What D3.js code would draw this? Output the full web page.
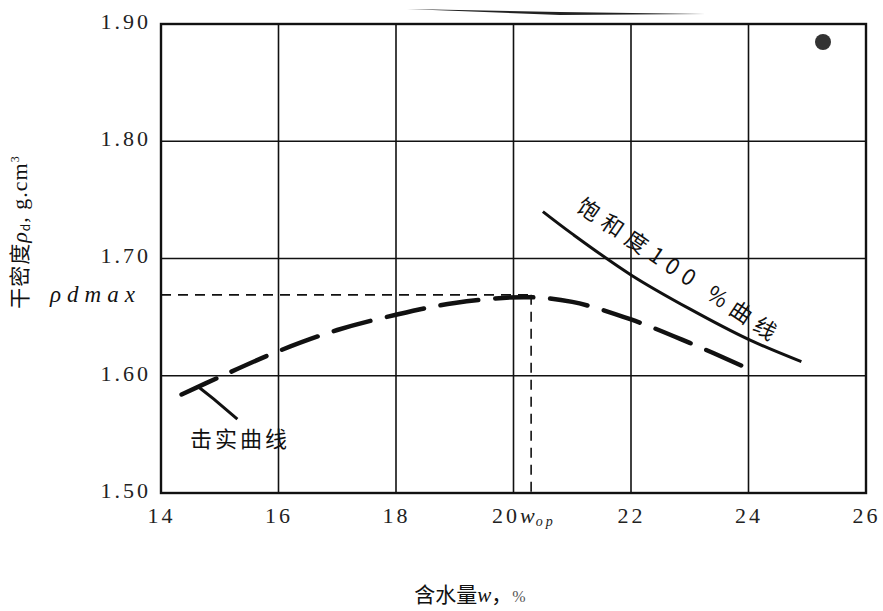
<!DOCTYPE html>
<html>
<head>
<meta charset="utf-8">
<script src="https://cdn.jsdelivr.net/npm/d3@7"></script>
<style>
  body { margin: 0; background: #fff; }
  svg { display: block; }
  .tick text { font-family: "Liberation Serif", "DejaVu Serif", serif; font-size: 22px; letter-spacing: 3px; fill: #222; }
  .cjk { font-family: "Noto Sans CJK SC", sans-serif; fill: #111; }
</style>
</head>
<body>
<svg width="883" height="611"></svg>
<script>
// x ticks (water content %) and y ticks (dry density g/cm3)
var xTicks = [14, 16, 18, 20, 22, 24, 26];
var yTicks = [1.50, 1.60, 1.70, 1.80, 1.90];

// compaction curve
var compactW   = [14.35, 15.0, 16.0, 17.0, 18.0, 19.0, 20.2, 21.0, 22.0, 23.0, 24.0];
var compactRho = [1.584, 1.599, 1.621, 1.639, 1.652, 1.662, 1.667, 1.663, 1.648, 1.628, 1.606];

// 100% saturation curve
var satW   = [20.5, 21.0, 22.0, 23.0, 24.0, 24.9];
var satRho = [1.740, 1.721, 1.686, 1.657, 1.631, 1.612];

var wop = 20.3;
var rhoMax = 1.669;

var svg = d3.select("svg");

var x = d3.scaleLinear().domain([14, 26]).range([161, 866]);
var y = d3.scaleLinear().domain([1.5, 1.9]).range([493, 24]);

// grid
var grid = svg.append("g").attr("stroke", "#111").attr("stroke-width", 1.6);
grid.selectAll("line.v")
    .data(xTicks)
  .enter().append("line")
    .attr("class", "v")
    .attr("x1", function(d) { return x(d); })
    .attr("x2", function(d) { return x(d); })
    .attr("y1", y(1.9))
    .attr("y2", y(1.5));
grid.selectAll("line.h")
    .data(yTicks)
  .enter().append("line")
    .attr("class", "h")
    .attr("x1", x(14))
    .attr("x2", x(26))
    .attr("y1", function(d) { return y(d); })
    .attr("y2", function(d) { return y(d); });

svg.append("rect")
    .attr("x", x(14)).attr("y", y(1.9))
    .attr("width", x(26) - x(14)).attr("height", y(1.5) - y(1.9))
    .attr("fill", "none").attr("stroke", "#111").attr("stroke-width", 2.4);

// axes (labels only)
var xAxis = svg.append("g")
    .attr("transform", "translate(0," + y(1.5) + ")")
    .call(d3.axisBottom(x).tickValues(xTicks).tickSize(0).tickPadding(14)
      .tickFormat(function(d) { return d == 20 ? "" : d; }));
xAxis.select(".domain").remove();

var wopLabel = xAxis.selectAll(".tick").filter(function(d) { return d == 20; }).select("text")
    .attr("text-anchor", "start")
    .attr("x", -22);
wopLabel.append("tspan").text("20");
wopLabel.append("tspan").attr("font-style", "italic").attr("letter-spacing", "1px").text("w");
wopLabel.append("tspan").attr("font-style", "italic").attr("font-size", "14px").attr("dy", 3).text("op");

var yAxis = svg.append("g")
    .attr("transform", "translate(" + x(14) + ",0)")
    .call(d3.axisLeft(y).tickValues(yTicks).tickSize(0).tickPadding(10).tickFormat(d3.format(".2f")));
yAxis.select(".domain").remove();
yAxis.selectAll(".tick text").attr("dy", "0.2em");

// rho_d max reference lines
var guide = svg.append("g").attr("stroke", "#111").attr("stroke-width", 1.6)
    .attr("stroke-dasharray", "10,7").attr("fill", "none");
guide.append("line")
    .attr("x1", x(14)).attr("x2", x(wop))
    .attr("y1", y(rhoMax)).attr("y2", y(rhoMax));
guide.append("line")
    .attr("x1", x(wop)).attr("x2", x(wop))
    .attr("y1", y(rhoMax)).attr("y2", y(1.5));

svg.append("text")
    .attr("x", 50).attr("y", y(rhoMax) + 7)
    .attr("font-family", "Liberation Serif, serif").attr("font-style", "italic")
    .attr("font-size", 23).attr("letter-spacing", 6).attr("fill", "#111")
    .text("ρdmax");

// curves
var compactData = compactW.map(function(d, i) { return [d, compactRho[i]]; });
var satData = satW.map(function(d, i) { return [d, satRho[i]]; });

var line = d3.line()
    .x(function(d) { return x(d[0]); })
    .y(function(d) { return y(d[1]); })
    .curve(d3.curveCatmullRom);

svg.append("path")
    .datum(compactData)
    .attr("d", line)
    .attr("fill", "none").attr("stroke", "#111").attr("stroke-width", 4.5)
    .attr("stroke-linecap", "round")
    .attr("stroke-dasharray", "38,17");

svg.append("path")
    .datum(satData)
    .attr("d", line)
    .attr("fill", "none").attr("stroke", "#111").attr("stroke-width", 3);

// annotation for compaction curve
svg.append("path")
    .attr("d", "M" + x(14.65) + "," + y(1.590) + " L" + x(14.9) + "," + y(1.58) + " L" + x(15.3) + "," + y(1.563))
    .attr("fill", "none").attr("stroke", "#111").attr("stroke-width", 3);
svg.append("text")
    .attr("class", "cjk")
    .attr("x", 190).attr("y", 447)
    .attr("font-size", 22).attr("letter-spacing", 3)
    .text("击实曲线");

// saturation label along curve
svg.append("text")
    .attr("class", "cjk")
    .attr("transform", "translate(575,210) rotate(34)")
    .attr("font-size", 22).attr("letter-spacing", 7)
    .text("饱和度100 %曲线");

// axis titles
svg.append("text")
    .attr("class", "cjk")
    .attr("transform", "translate(27,232) rotate(-90)")
    .attr("text-anchor", "middle")
    .attr("font-size", 21).attr("letter-spacing", 1)
    .html('干密度<tspan font-family="Liberation Serif, serif" font-style="italic" font-size="22">ρ</tspan><tspan font-size="12" dy="3">d</tspan><tspan dy="-3" font-family="Liberation Serif, serif" font-size="22">, g.cm</tspan><tspan font-size="12" dy="-8" font-family="Liberation Serif, serif">3</tspan>');

svg.append("text")
    .attr("class", "cjk")
    .attr("x", 470).attr("y", 602)
    .attr("text-anchor", "middle")
    .attr("font-size", 21)
    .html('含水量<tspan font-family="Liberation Serif, serif" font-style="italic">w</tspan><tspan>，</tspan><tspan font-family="Liberation Serif, serif" font-size="16" fill="#555">%</tspan>');

// scan marks at the top
svg.append("path")
    .attr("d", "M407,9 L560,12 L705,14 L560,15 Z")
    .attr("fill", "#222");
svg.append("circle").attr("cx", 823).attr("cy", 42).attr("r", 8).attr("fill", "#333");
</script>
</body>
</html>
